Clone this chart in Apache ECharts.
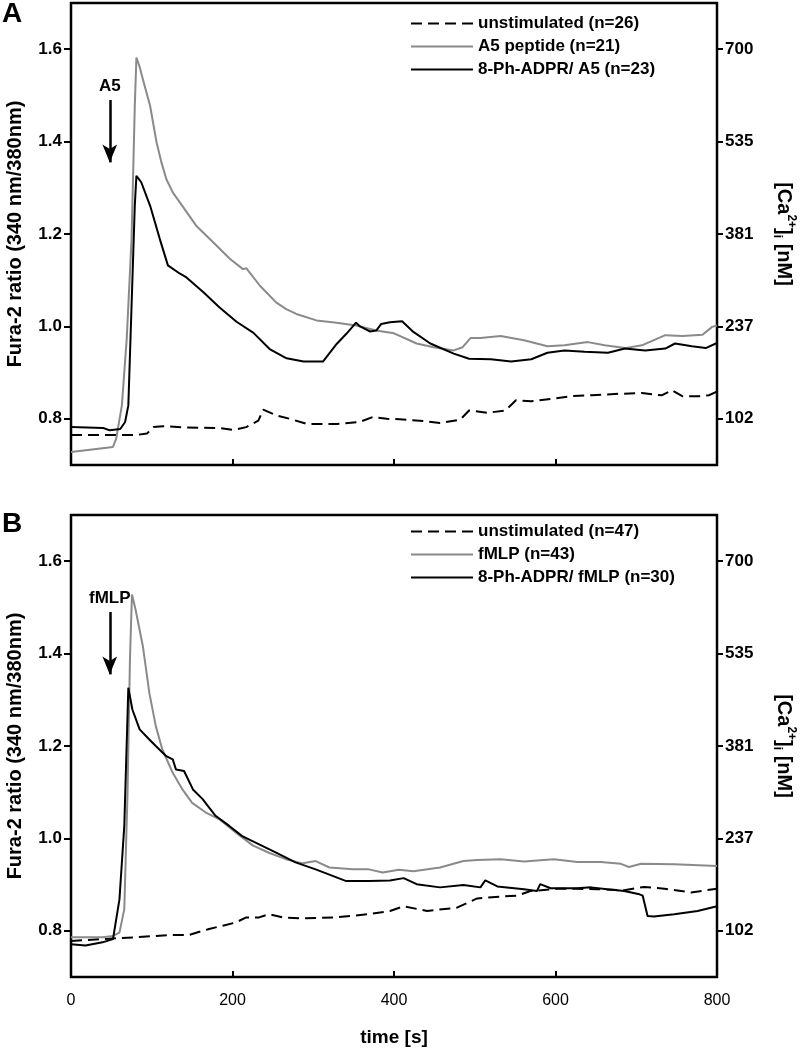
<!DOCTYPE html>
<html>
<head>
<meta charset="utf-8">
<script src="https://cdn.jsdelivr.net/npm/echarts@6/dist/echarts.min.js"></script>
<style>
html,body{margin:0;padding:0;background:#fff;}
#chart{width:800px;height:1051px;}
</style>
</head>
<body>
<div id="chart"></div>
<script>
// ---- data (time [s], Fura-2 ratio) ----
const yTicks = [0.8, 1.0, 1.2, 1.4, 1.6];
const caLabels = ['102', '237', '381', '535', '700'];
const xTicks = [0, 200, 400, 600, 800];

const namesA = ['unstimulated (n=26)', 'A5 peptide (n=21)', '8-Ph-ADPR/ A5 (n=23)'];
const namesB = ['unstimulated (n=47)', 'fMLP (n=43)', '8-Ph-ADPR/ fMLP (n=30)'];

const unstimA = [[0,0.765],[40,0.765],[81,0.765],[94,0.768],[102,0.782],[114,0.784],[143,0.781],[184,0.780],[201,0.776],[217,0.782],[232,0.796],[238,0.820],[255,0.807],[271,0.800],[292,0.789],[329,0.789],[357,0.793],[374,0.804],[391,0.800],[407,0.799],[437,0.795],[457,0.791],[482,0.798],[493,0.818],[516,0.813],[538,0.818],[551,0.840],[570,0.838],[595,0.843],[620,0.849],[645,0.851],[678,0.854],[707,0.856],[724,0.852],[732,0.851],[744,0.862],[757,0.849],[778,0.849],[790,0.851],[800,0.859]];

const a5 = [[0,0.728],[52,0.739],[56,0.757],[63,0.829],[69,0.973],[75,1.189],[79,1.477],[81,1.582],[85,1.562],[89,1.535],[98,1.477],[106,1.398],[112,1.355],[118,1.319],[126,1.290],[135,1.268],[145,1.243],[155,1.218],[176,1.182],[197,1.146],[213,1.124],[217,1.126],[234,1.088],[254,1.052],[266,1.038],[279,1.027],[304,1.013],[329,1.008],[353,1.002],[378,0.991],[400,0.985],[428,0.963],[449,0.955],[474,0.948],[485,0.955],[495,0.975],[507,0.975],[532,0.979],[561,0.970],[590,0.957],[611,0.959],[640,0.966],[661,0.959],[686,0.953],[707,0.959],[736,0.981],[757,0.979],[782,0.982],[794,0.999],[800,1.002]];

const phA5 = [[0,0.782],[40,0.780],[48,0.775],[61,0.778],[67,0.793],[71,0.829],[75,1.045],[79,1.261],[81,1.326],[87,1.312],[98,1.261],[110,1.189],[120,1.132],[135,1.114],[143,1.106],[164,1.074],[184,1.041],[205,1.010],[226,0.986],[246,0.951],[267,0.931],[288,0.924],[312,0.924],[329,0.962],[341,0.984],[353,1.008],[358,1.000],[370,0.989],[378,0.991],[384,1.005],[395,1.009],[410,1.011],[424,0.988],[445,0.963],[474,0.941],[493,0.930],[520,0.929],[545,0.924],[570,0.929],[590,0.943],[611,0.948],[636,0.945],[665,0.943],[686,0.952],[711,0.948],[736,0.952],[748,0.963],[769,0.957],[786,0.953],[800,0.964]];

const unstimB = [[0,0.778],[39,0.782],[80,0.786],[122,0.791],[146,0.791],[171,0.804],[188,0.811],[204,0.818],[217,0.829],[233,0.829],[245,0.836],[262,0.829],[287,0.827],[328,0.829],[369,0.836],[395,0.843],[412,0.853],[441,0.843],[478,0.850],[503,0.870],[532,0.874],[552,0.876],[569,0.886],[602,0.891],[627,0.891],[652,0.890],[685,0.888],[710,0.895],[735,0.891],[768,0.883],[800,0.891]];

const fmlp = [[0,0.786],[39,0.786],[52,0.789],[60,0.796],[66,0.847],[70,1.099],[73,1.387],[75.5,1.528],[80,1.495],[89,1.416],[97,1.315],[105,1.243],[113,1.193],[126,1.142],[138,1.106],[150,1.077],[167,1.056],[184,1.041],[204,1.013],[225,0.985],[245,0.969],[266,0.955],[287,0.946],[303,0.951],[320,0.937],[349,0.933],[369,0.933],[386,0.926],[406,0.932],[424,0.929],[457,0.937],[486,0.951],[503,0.953],[532,0.955],[561,0.950],[598,0.955],[627,0.949],[656,0.949],[681,0.945],[691,0.938],[706,0.945],[747,0.944],[800,0.940]];

const phFmlp = [[0,0.771],[18,0.768],[39,0.775],[52,0.782],[60,0.868],[66,1.027],[71,1.326],[76,1.279],[85,1.236],[97,1.214],[105,1.200],[118,1.178],[126,1.171],[130,1.149],[140,1.146],[151,1.106],[163,1.085],[179,1.049],[196,1.027],[212,1.005],[233,0.987],[254,0.969],[278,0.948],[303,0.933],[324,0.919],[340,0.908],[369,0.908],[395,0.909],[412,0.914],[428,0.901],[457,0.894],[486,0.899],[507,0.894],[513,0.909],[528,0.896],[561,0.890],[577,0.886],[581,0.901],[594,0.892],[627,0.892],[644,0.894],[664,0.890],[685,0.886],[704,0.879],[708,0.876],[714,0.832],[722,0.831],[747,0.836],[776,0.843],[800,0.853]];

// stimulus arrows: [time, top, tip, label]
const arrowA = [48, 1.49, 1.355, 'A5'];
const arrowB = [48, 1.49, 1.355, 'fMLP'];

// ---- chart ----
const FONT = '"Liberation Sans", Arial, sans-serif';
const GRAY = '#8a8a8a';
const chart = echarts.init(document.getElementById('chart'), null, {renderer: 'canvas'});

function xAxisFor(gi, showLabels) {
  return {
    type: 'value', gridIndex: gi, min: 0, max: 800, interval: 200,
    axisLine: {show: false},
    axisTick: {show: true, inside: true, length: 6, lineStyle: {color: '#000', width: 2}},
    axisLabel: {show: showLabels, margin: 16, color: '#000', fontFamily: FONT, fontSize: 16},
    splitLine: {show: false},
    name: showLabels ? 'time [s]' : '',
    nameLocation: 'middle', nameGap: 51,
    nameTextStyle: {color: '#000', fontFamily: FONT, fontSize: 19, fontWeight: 'bold'}
  };
}
function yLeft(gi) {
  return {
    type: 'value', gridIndex: gi, min: 0.7, max: 1.7, position: 'left',
    axisLine: {show: false},
    axisTick: {show: true, inside: false, length: 7, customValues: yTicks, lineStyle: {color: '#000', width: 2}},
    axisLabel: {customValues: yTicks, margin: 9, color: '#000', fontFamily: FONT, fontSize: 17, fontWeight: 'bold',
      formatter: v => v.toFixed(1)},
    splitLine: {show: false},
    name: 'Fura-2 ratio (340 nm/380nm)', nameLocation: 'middle', nameGap: 46,
    nameTextStyle: {color: '#000', fontFamily: FONT, fontSize: 20, fontWeight: 'bold'}
  };
}
function yRight(gi) {
  return {
    type: 'value', gridIndex: gi, min: 0.7, max: 1.7, position: 'right',
    axisLine: {show: false},
    axisTick: {show: true, inside: false, length: 6, customValues: yTicks, lineStyle: {color: '#000', width: 2}},
    axisLabel: {customValues: yTicks, margin: 8, color: '#000', fontFamily: FONT, fontSize: 17, fontWeight: 'bold',
      formatter: v => caLabels[yTicks.findIndex(t => Math.abs(t - v) < 1e-6)]},
    splitLine: {show: false},
    name: '{m|[Ca}{sup|2+}{m|]}{sub|i}{m| [nM]}', nameLocation: 'middle', nameGap: 54, nameRotate: -90,
    nameTextStyle: {
      color: '#000', fontFamily: FONT, fontSize: 20, fontWeight: 'bold',
      rich: {
        m: {fontFamily: FONT, fontSize: 20, fontWeight: 'bold', color: '#000', lineHeight: 26},
        sup: {fontFamily: FONT, fontSize: 12, fontWeight: 'bold', color: '#000', verticalAlign: 'top', lineHeight: 26},
        sub: {fontFamily: FONT, fontSize: 12, fontWeight: 'bold', color: '#000', verticalAlign: 'bottom', lineHeight: 26}
      }
    }
  };
}

function arrowMark(a) {
  return {
    silent: true, animation: false,
    symbol: ['none', 'arrow'], symbolSize: [11, 18],
    lineStyle: {color: '#000', width: 2.5, type: 'solid'},
    label: {show: true, position: 'start', formatter: a[3], distance: 5,
      color: '#000', fontFamily: FONT, fontSize: 17, fontWeight: 'bold'},
    data: [[{coord: [a[0], a[1]]}, {coord: [a[0], a[2]]}]]
  };
}

function lineSeries(name, data, gi, style, mark) {
  const s = {
    name, type: 'line', data, xAxisIndex: gi, yAxisIndex: gi * 2,
    symbol: 'none', showSymbol: false, smooth: false, silent: true,
    lineStyle: style, itemStyle: {color: style.color},
    z: 3
  };
  if (mark) s.markLine = mark;
  return s;
}

const dashStyle = {color: '#000', width: 2, type: [11, 6]};
const grayStyle = {color: GRAY, width: 2, type: 'solid'};
const blackStyle = {color: '#000', width: 2, type: 'solid'};

function legendFor(names, top) {
  return {
    data: names, orient: 'vertical', left: 405, top,
    itemWidth: 62, itemHeight: 14, itemGap: 6,
    itemStyle: {opacity: 0, borderWidth: 0},
    textStyle: {color: '#000', fontFamily: FONT, fontSize: 17, fontWeight: 'bold', lineHeight: 16},
    selectedMode: false
  };
}

const gridBase = {left: 71, right: 83, height: 462, show: true, borderColor: '#000', borderWidth: 2.5,
  backgroundColor: 'transparent', containLabel: false, outerBoundsMode: 'none'};

const option = {
  animation: false,
  backgroundColor: '#fff',
  grid: [
    Object.assign({}, gridBase, {top: 3}),
    Object.assign({}, gridBase, {top: 515})
  ],
  xAxis: [xAxisFor(0, false), xAxisFor(1, true)],
  yAxis: [yLeft(0), yRight(0), yLeft(1), yRight(1)],
  legend: [legendFor(namesA, 10), legendFor(namesB, 518)],
  graphic: [
    {type: 'text', left: 2, top: 0, style: {text: 'A', fill: '#000', font: 'bold 28px ' + FONT}},
    {type: 'text', left: 2, top: 510, style: {text: 'B', fill: '#000', font: 'bold 28px ' + FONT}}
  ],
  series: [
    lineSeries(namesA[0], unstimA, 0, dashStyle),
    lineSeries(namesA[1], a5, 0, grayStyle, arrowMark(arrowA)),
    lineSeries(namesA[2], phA5, 0, blackStyle),
    lineSeries(namesB[0], unstimB, 1, dashStyle),
    lineSeries(namesB[1], fmlp, 1, grayStyle, arrowMark(arrowB)),
    lineSeries(namesB[2], phFmlp, 1, blackStyle)
  ]
};
chart.setOption(option);
</script>
</body>
</html>
